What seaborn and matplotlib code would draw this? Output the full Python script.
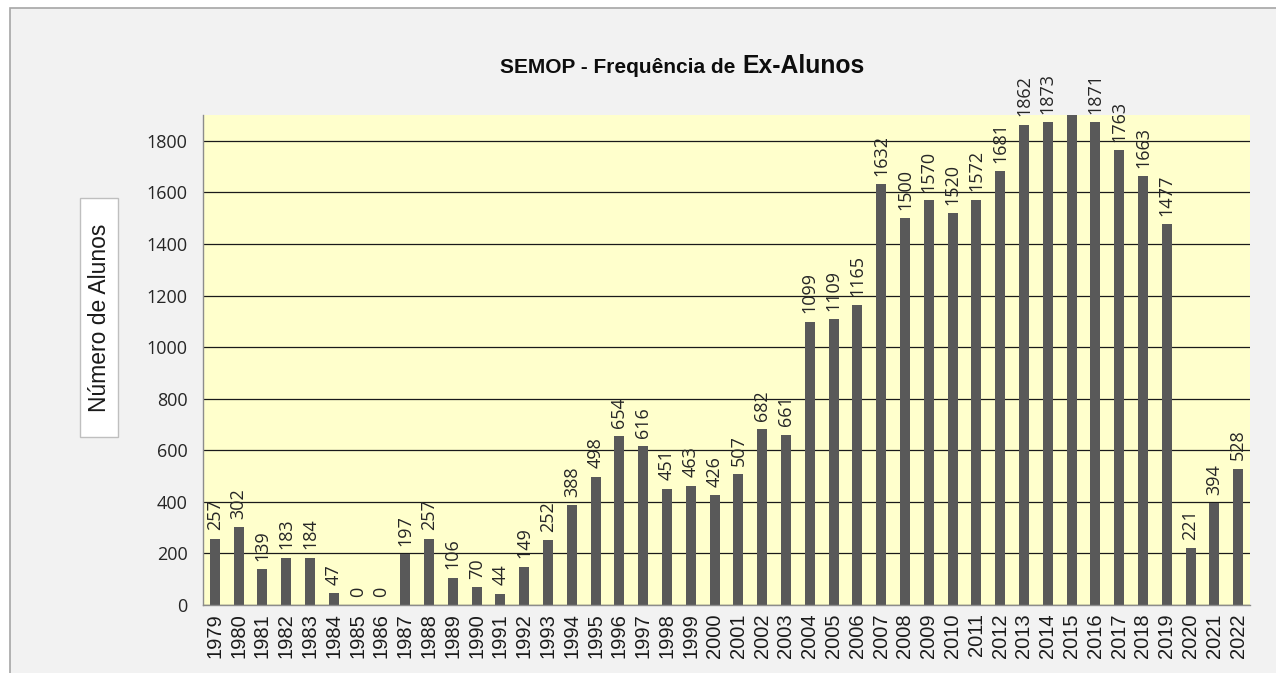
import matplotlib
matplotlib.use("Agg")
import matplotlib.pyplot as plt
import seaborn as sns
import pandas as pd
import numpy as np
from matplotlib.patches import Rectangle

years = [str(y) for y in range(1979, 2023)]
values = [257, 302, 139, 183, 184, 47, 0, 0, 197, 257, 106, 70, 44, 149, 252,
          388, 498, 654, 616, 451, 463, 426, 507, 682, 661, 1099, 1109, 1165,
          1632, 1500, 1570, 1520, 1572, 1681, 1862, 1873, 1905, 1871, 1763,
          1663, 1477, 221, 394, 528]
labels = [str(v) for v in values]
labels[years.index("2015")] = ""   # label hidden in the reference (bar exceeds axis)
yticks = list(range(0, 2000, 200))

df = pd.DataFrame({"ano": years, "alunos": values})

sns.set_style("white")
plt.rcParams["font.family"] = ["Liberation Sans", "DejaVu Sans"]

W, H = 1276, 673
fig = plt.figure(figsize=(W / 100, H / 100), dpi=100, facecolor="white")
fig.patches.append(Rectangle((10 / W, -0.05), 1.2, 1 - 8 / H + 0.05,
                             transform=fig.transFigure, facecolor="#f2f2f2",
                             edgecolor="#a6a6a6", linewidth=1.2, zorder=-10))

ax = fig.add_axes([203 / W, 1 - 605 / H, (1250 - 203) / W, (605 - 115) / H])
ax.set_facecolor("#ffffcc")

sns.barplot(data=df, x="ano", y="alunos", color="#595959", saturation=1,
            width=0.42, ax=ax, zorder=3, edgecolor="none")

ax.set_ylim(0, 1900)
ax.set_xlim(-0.5, len(years) - 0.5)
ax.set_yticks(yticks)
ax.set_yticklabels([str(t) for t in yticks], fontsize=13, color="#262626",
                   family=["Open Sans", "DejaVu Sans"])
ax.yaxis.grid(True, color="#1a1a1a", linewidth=0.9, zorder=1)
ax.set_axisbelow(True)

ax.set_xticks(range(len(years)))
ax.set_xticklabels(years, rotation=90, fontsize=14.5, color="#1a1a1a")
ax.set_xticks(np.arange(-0.5, len(years), 1.0), minor=True)
ax.tick_params(axis="x", which="major", length=0, pad=6)
ax.tick_params(axis="x", which="minor", length=5, color="#8c8c8c", width=1)
ax.tick_params(axis="y", which="major", length=5, color="#8c8c8c", width=1, pad=6)
ax.set_xlabel("")
ax.set_ylabel("")

for s in ["top", "right"]:
    ax.spines[s].set_visible(False)
for s in ["left", "bottom"]:
    ax.spines[s].set_color("#8c8c8c")
    ax.spines[s].set_linewidth(1)
    ax.spines[s].set_zorder(4)

for i, (v, lab) in enumerate(zip(values, labels)):
    if lab:
        ax.annotate(lab, (i, v), xytext=(0, 6), textcoords="offset points",
                    rotation=90, ha="center", va="bottom", fontsize=13,
                    color="#262626", family=["Open Sans", "DejaVu Sans"],
                    annotation_clip=False)

# Y label in a white box
fig.patches.append(Rectangle((80 / W, 1 - 437 / H), 38 / W, 239 / H,
                             transform=fig.transFigure, facecolor="white",
                             edgecolor="#bfbfbf", linewidth=1, zorder=-5))
fig.text(99 / W, 1 - 318 / H, "Número de Alunos", rotation=90, ha="center",
         va="center", fontsize=16.5, color="#1a1a1a")

# Title with mixed sizes, sharing one baseline
fig.text(741 / W, 1 - 73 / H, "SEMOP - Frequência de ", ha="right", va="baseline",
         fontsize=15, fontweight="bold", color="#0d0d0d")
fig.text(742 / W, 1 - 73 / H, "Ex-Alunos", ha="left", va="baseline",
         fontsize=17.8, fontweight="bold", color="#0d0d0d")

fig.savefig("out.png", dpi=100, facecolor=fig.get_facecolor())
